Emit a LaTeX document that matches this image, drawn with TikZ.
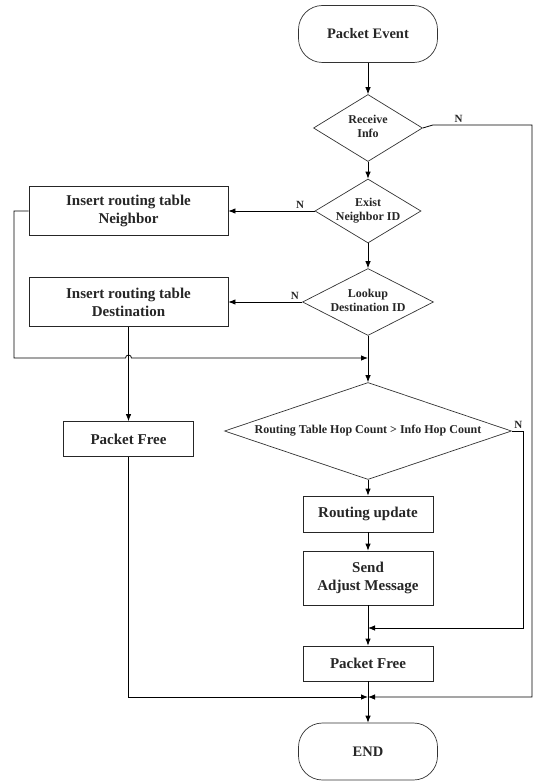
\documentclass[tikz,border=0pt]{standalone}
\usepackage{fontspec}
\setmainfont{Liberation Serif}
\usetikzlibrary{shapes.geometric,positioning,calc,arrows.meta}
\tikzset{
node distance=80pt, % only used as a fallback, every step below is given
>={Latex[length=7pt,width=5.5pt]}, % small filled arrow heads
terminal/.style={rectangle, rounded corners=24pt, draw=black!80, line width=0.7pt, minimum width=139pt, minimum height=57pt, text=black!85, font=\fontsize{14.5}{16}\selectfont\bfseries},
process/.style={rectangle, draw=black!85, line width=0.8pt, minimum width=199pt, minimum height=49pt, align=center, text=black!85, font=\fontsize{15}{18}\selectfont\bfseries},
decision/.style={diamond, draw=black!80, line width=0.7pt, inner sep=0pt, text=black!85, font=\fontsize{12}{13.5}\selectfont\bfseries},
flag/.style={font=\fontsize{11}{12}\selectfont\bfseries, text=black!85, inner sep=2pt},
}
\newcommand{\dlabel}[1]{\makebox[0pt]{\begin{tabular}{@{}c@{}}#1\end{tabular}}}

\begin{document}
\begin{tikzpicture}[on grid,line width=0.8pt]
   \useasboundingbox (0,0) rectangle (535pt,-781pt);
   \node[terminal] (t_0) at (368pt,-34pt) {Packet Event};
   \node[decision, minimum width=109pt, minimum height=67pt] (d_1) [below=94pt of t_0] {\dlabel{Receive\\Info}};
   \node[decision, minimum width=106pt, minimum height=64pt] (d_2) [below=83pt of d_1] {\dlabel{Exist\\Neighbor ID}};
   \node[decision, minimum width=131pt, minimum height=67pt] (d_3) [below=91pt of d_2] {\dlabel{Lookup\\Destination ID}};
   \node[decision, minimum width=287pt, minimum height=97pt] (d_4) [below=129pt of d_3] {\dlabel{Routing Table Hop Count > Info Hop Count}};
   \node[process] (p_1) [left=239.5pt of d_2] {Insert routing table\\Neighbor};
   \node[process] (p_2) [left=239.5pt of d_3] {Insert routing table\\Destination};
   \node[process, minimum width=130pt, minimum height=35pt] (p_3) [below=137pt of p_2] {Packet Free};
   \node[process, minimum width=130pt, minimum height=36pt] (p_4) [below=83pt of d_4] {Routing update};
   \node[process, minimum width=130pt, minimum height=54pt] (p_5) [below=64pt of p_4] {Send\\Adjust Message};
   \node[process, minimum width=130pt, minimum height=35pt] (p_6) [below=85.5pt of p_5] {Packet Free};
   \node[terminal] (t_1) [below=88pt of p_6] {END};

   \coordinate (j_1) at (368pt,-358pt);
   \coordinate (j_2) at (368pt,-628pt);
   \coordinate (j_3) at (368pt,-697pt);
   \coordinate (r_0) at (532pt,-125pt);
   \coordinate (l_0) at (14pt,-211pt);

    \path[->]
    (t_0) edge (d_1)
    (d_1) edge (d_2)
    (d_2) edge node[flag, pos=0.17, above] {N} (p_1)
    (d_2) edge (d_3)
    (d_3) edge node[flag, pos=0.1, above] {N} (p_2)
    (d_3) edge (d_4)
    (p_2) edge (p_3)
    (d_4) edge (p_4)
    (p_4) edge (p_5)
    (p_5) edge (p_6)
    (p_6) edge (t_1);

   \draw[->] (d_1.east) -- ++(10pt,3pt) -- (r_0) node[flag, pos=0.26, above] {N} -- (r_0 |- j_3) -- (j_3);
   \draw[->] (p_1.west) -- (l_0) -- (l_0 |- j_1) -- ($(p_2.south |- j_1)+(-3pt,0)$) arc[start angle=180, end angle=0, radius=3pt] -- (j_1);
   \draw[->] (p_3) |- (j_3);
   \draw[->] (d_4.east) node[flag, above right] {N} -- ++(12pt,0) |- (j_2);
\end{tikzpicture}
\end{document}
